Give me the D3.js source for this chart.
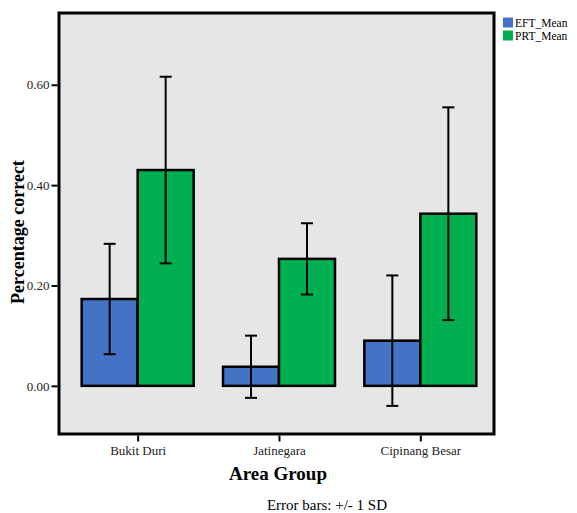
<!DOCTYPE html>
<html>
<head>
<meta charset="utf-8">
<script src="https://cdn.jsdelivr.net/npm/d3@7"></script>
<style>
  body { margin: 0; background: #fff; }
  svg text { font-family: "Liberation Serif", "Times New Roman", serif !important; }
</style>
</head>
<body>
<div id="chart"></div>
<script>
// Data
const areas = ['Bukit Duri', 'Jatinegara', 'Cipinang Besar'];
const seriesNames = ['EFT_Mean', 'PRT_Mean'];
const eftMean = [0.173, 0.038, 0.090];
const eftSD = [0.110, 0.062, 0.130];
const prtMean = [0.430, 0.253, 0.343];
const prtSD = [0.186, 0.071, 0.212];
const yTicks = [0, 0.2, 0.4, 0.6];
const colors = ['#4472C4', '#00B050'];

const width = 577, height = 513;
const frame = { left: 59, right: 494, top: 13, bottom: 434 };

const svg = d3.select('#chart').append('svg')
    .attr('width', width)
    .attr('height', height);

const y = d3.scaleLinear()
    .domain([-0.096, 0.743])
    .range([frame.bottom, frame.top]);

const x = d3.scalePoint()
    .domain(areas)
    .range([67, 491])
    .padding(0.5);

const barW = 56;

// Plot background
svg.append('rect')
    .attr('x', frame.left).attr('y', frame.top)
    .attr('width', frame.right - frame.left)
    .attr('height', frame.bottom - frame.top)
    .attr('fill', '#E6E6E6');

// Build rows for bars
const rows = [];
areas.forEach((a, i) => {
    rows.push({ area: a, s: 0, mean: eftMean[i], sd: eftSD[i] });
    rows.push({ area: a, s: 1, mean: prtMean[i], sd: prtSD[i] });
});

const barX = d => x(d.area) + (d.s === 0 ? -barW : 0);

// Bars
svg.append('g').selectAll('rect')
    .data(rows)
    .join('rect')
    .attr('x', barX)
    .attr('y', d => y(d.mean))
    .attr('width', barW)
    .attr('height', d => y(0) - y(d.mean))
    .attr('fill', d => colors[d.s])
    .attr('stroke', '#000')
    .attr('stroke-width', 2.5);

// Error bars
const err = svg.append('g').attr('stroke', '#000').attr('stroke-width', 2);
rows.forEach(d => {
    const cx = barX(d) + barW / 2;
    const y1 = y(d.mean + d.sd), y2 = y(d.mean - d.sd);
    err.append('line').attr('x1', cx).attr('x2', cx).attr('y1', y1).attr('y2', y2);
    err.append('line').attr('x1', cx - 6).attr('x2', cx + 6).attr('y1', y1).attr('y2', y1);
    err.append('line').attr('x1', cx - 6).attr('x2', cx + 6).attr('y1', y2).attr('y2', y2);
});

// Frame
svg.append('rect')
    .attr('x', frame.left).attr('y', frame.top)
    .attr('width', frame.right - frame.left)
    .attr('height', frame.bottom - frame.top)
    .attr('fill', 'none')
    .attr('stroke', '#000')
    .attr('stroke-width', 3);

// Y axis
const yAxis = svg.append('g')
    .attr('transform', `translate(${frame.left - 1.5},0)`)
    .call(d3.axisLeft(y).tickValues(yTicks).tickFormat(d3.format('.2f')).tickSize(6).tickPadding(2))
    .attr('font-family', '"Liberation Serif", serif')
    .attr('font-size', 13);
yAxis.select('.domain').remove();
yAxis.selectAll('line').attr('stroke-width', 2);
yAxis.selectAll('text').attr('fill', '#222');

// X axis
const xAxis = svg.append('g')
    .attr('transform', `translate(0,${frame.bottom + 1.5})`)
    .call(d3.axisBottom(x).tickSize(6).tickPadding(4))
    .attr('font-family', '"Liberation Serif", serif')
    .attr('font-size', 13);
xAxis.select('.domain').remove();
xAxis.selectAll('line').attr('stroke-width', 2);
xAxis.selectAll('text').attr('fill', '#222');

// Axis titles
svg.append('text')
    .attr('transform', 'translate(24,232) rotate(-90)')
    .attr('text-anchor', 'middle')
    .attr('font-size', 18)
    .attr('font-weight', 'bold')
    .text('Percentage correct');

svg.append('text')
    .attr('x', 278).attr('y', 480)
    .attr('text-anchor', 'middle')
    .attr('font-size', 19)
    .attr('font-weight', 'bold')
    .text('Area Group');

svg.append('text')
    .attr('x', 327).attr('y', 510)
    .attr('text-anchor', 'middle')
    .attr('font-size', 15)
    .text('Error bars: +/- 1 SD');

// Legend
const legend = svg.append('g').attr('transform', 'translate(503,17)');
seriesNames.forEach((name, i) => {
    const g = legend.append('g').attr('transform', `translate(0,${i * 13})`);
    g.append('rect').attr('y', 0.5).attr('width', 10).attr('height', 10)
        .attr('fill', colors[i]);
    g.append('text').attr('x', 12).attr('y', 9.5)
        .attr('font-size', 11.5).text(name);
});
</script>
</body>
</html>
